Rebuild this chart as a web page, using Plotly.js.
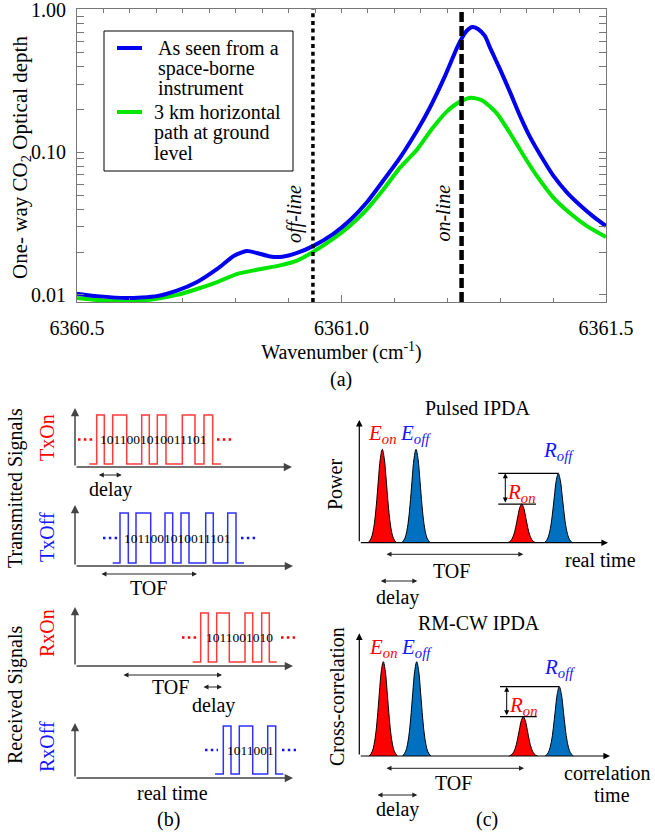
<!DOCTYPE html>
<html><head><meta charset="utf-8">
<script src="https://cdn.plot.ly/plotly-3.0.1.min.js"></script>
<style>html,body{margin:0;padding:0;background:#fff}#plot{width:655px;height:834px}</style>
</head><body><div id="plot"></div>
<script>
// ================= (a) optical depth spectra =================
const wnSpace = [6360.500,6360.538,6360.595,6360.651,6360.689,6360.727,6360.765,6360.797,6360.821,6360.840,6360.865,6360.888,6360.916,6360.946,6360.984,6361.016,6361.048,6361.078,6361.111,6361.143,6361.167,6361.196,6361.220,6361.235,6361.247,6361.258,6361.271,6361.281,6361.300,6361.319,6361.337,6361.356,6361.375,6361.400,6361.426,6361.451,6361.475,6361.500];
const odSpace = [0.0102,0.0098,0.0095,0.0098,0.0107,0.0123,0.0152,0.0188,0.0203,0.0197,0.0186,0.0185,0.0197,0.0220,0.0267,0.0334,0.0447,0.0627,0.0923,0.1425,0.206,0.346,0.560,0.702,0.760,0.736,0.658,0.542,0.381,0.263,0.182,0.129,0.097,0.069,0.0525,0.0426,0.0357,0.0304];
const wnGround = [6360.500,6360.538,6360.595,6360.651,6360.689,6360.727,6360.765,6360.802,6360.840,6360.884,6360.916,6360.946,6360.984,6361.016,6361.048,6361.078,6361.111,6361.143,6361.173,6361.199,6361.224,6361.245,6361.267,6361.294,6361.319,6361.343,6361.370,6361.400,6361.432,6361.464,6361.500];
const odGround = [0.0095,0.0092,0.0090,0.0094,0.0100,0.0110,0.0123,0.0140,0.0150,0.0161,0.0174,0.0200,0.0247,0.0306,0.0399,0.0542,0.0785,0.1050,0.1496,0.1935,0.2274,0.2425,0.2310,0.1874,0.1358,0.0968,0.0679,0.0484,0.0374,0.0304,0.0255];
const offLineWn = 6360.946;
const onLineWn = 6361.227;
const xTickVals = [6360.5, 6361.0, 6361.5];
const yTickVals = [0.01, 0.1, 1];
const yTickText = ['0.01', '0.10', '1.00'];
const yMinorVals = [0.02,0.03,0.04,0.05,0.06,0.07,0.08,0.09,0.2,0.3,0.4,0.5,0.6,0.7,0.8,0.9];
const legendSpace = ['As seen from a', 'space-borne', 'instrument'];
const legendGround = ['3 km horizontal', 'path at ground', 'level'];

// ================= (b) code-modulated signals (time units, levels 0/1) =================
const txOnEdges  = [14.3,21.7,29.3,37.7,51.7,66.7,74.3,82.3,91,107.3,120,129,137.7,146];
const txOnLevels = [0,1,0,1,0,1,0,1,0,1,0,1,0,0];
const txOffEdges  = [37.7,45,53.3,61,75.7,90,97.7,106,114,130.7,138.3,152.7,161,169];
const txOffLevels = [0,1,0,1,0,1,0,1,0,1,0,1,0,0];
const rxOnEdges  = [117.7,125.7,133.3,141.7,154.3,170,177.7,186.7,194.3,201.7];
const rxOnLevels = [0,1,0,1,0,1,0,1,0,0];
const rxOffEdges  = [140,148.3,156,164.3,177.7,192.7,200.7,208.3];
const rxOffLevels = [0,1,0,1,0,1,0,0];
const txOnBits = '1011001010011101';
const txOffBits = '1011001010011101';
const rxOnBits = '1011001010';
const rxOffBits = '1011001';
const txDelay = [22.3, 46.7];
const txTof = [25, 122];
const rxTof = [47, 147];
const rxDelay = [127, 147];

// ================= (c) pulses / correlation peaks =================
const peakLabels = ['E<sub>on</sub>', 'E<sub>off</sub>', 'R<sub>on</sub>', 'R<sub>off</sub>'];
const pulsedCenters = [23, 56.7, 162.4, 199];
const pulsedHeights = [1, 1, 0.414, 0.743];
const rmcwCenters = [24, 57.4, 164, 200];
const rmcwHeights = [1, 1, 0.417, 0.735];
const pulseOffsets = [-14,-11,-8,-6,-4,-2,0,2,4,6,8,11,14];
const pulseShape   = [0,0.05,0.2,0.4,0.66,0.9,1,0.9,0.66,0.4,0.2,0.05,0];
const pulsedTof = [25.7, 164];
const pulsedDelay = [20, 58];
const rmcwTof = [25.7, 164.7];
const rmcwDelay = [16.7, 58];

// ================= helpers =================
const W = 655, H = 834;
const FONT = '"Liberation Serif", "Times New Roman", Times, serif';
const fx = p => p / W, fy = p => 1 - p / H;
const RED = '#ff0000', BLUE = '#1515ff';
const RED_W = '#ff3b3b', BLUE_W = '#3030ff';
const PEAK_RED = '#ff0000', PEAK_BLUE = '#0070c0';
const AXC = '#777777';

const traces = [];
const shapes = [];
const annotations = [];

const layout = {
  width: W, height: H,
  margin: {l: 0, r: 0, t: 0, b: 0},
  paper_bgcolor: '#ffffff', plot_bgcolor: 'rgba(0,0,0,0)',
  showlegend: false,
  font: {family: FONT, size: 20, color: '#000'},
  xaxis: {
    domain: [fx(77), fx(606)], range: [6360.5, 6361.5], anchor: 'y',
    showline: true, linecolor: AXC, linewidth: 1, mirror: true,
    ticks: 'inside', ticklen: 7, tickcolor: AXC, tickwidth: 1,
    tickmode: 'array', tickvals: xTickVals, tickformat: '.1f',
    tickfont: {family: FONT, size: 20, color: '#000'}, ticklabelstandoff: 8,
    ticklabeloverflow: 'allow',
    minor: {ticks: 'inside', ticklen: 4, tickcolor: AXC, tick0: 6360.5, dtick: 0.1, showgrid: false},
    showgrid: false, zeroline: false,
    title: {text: 'Wavenumber (cm<sup>-1</sup>)', font: {family: FONT, size: 20, color: '#000'}, standoff: 2}
  },
  xaxis2: {
    overlaying: 'x', side: 'top', anchor: 'y', range: [6360.5, 6361.5],
    ticks: 'inside', ticklen: 4, tickcolor: AXC, tickmode: 'linear', tick0: 6360.5, dtick: 0.05,
    showticklabels: false, showline: false, showgrid: false, zeroline: false
  },
  yaxis: {
    domain: [fy(302), fy(9)], type: 'log', range: [-2.05, 0.007], anchor: 'x',
    showline: true, linecolor: AXC, linewidth: 1, mirror: 'allticks',
    ticks: 'inside', ticklen: 7, tickcolor: AXC,
    tickmode: 'array', tickvals: yTickVals, ticktext: yTickText,
    tickfont: {family: FONT, size: 20, color: '#000'}, ticklabelstandoff: 6,
    ticklabeloverflow: 'allow',
    minor: {ticks: 'inside', ticklen: 4, tickcolor: AXC, tickmode: 'array', tickvals: yMinorVals, showgrid: false},
    showgrid: false, zeroline: false
  },
  shapes: shapes, annotations: annotations
};

function ptext(px, py, text, opts) {
  annotations.push(Object.assign({xref: 'paper', yref: 'paper', x: fx(px), y: fy(py), text: text,
    showarrow: false, xanchor: 'center', yanchor: 'middle', font: {family: FONT, size: 20, color: '#000'}}, opts || {}));
}

// ---------- (a) traces ----------
traces.push({x: wnGround, y: odGround, type: 'scatter', mode: 'lines', xaxis: 'x', yaxis: 'y',
  line: {color: '#00e600', width: 4, shape: 'spline', smoothing: 0.6}, hoverinfo: 'skip'});
traces.push({x: wnSpace, y: odSpace, type: 'scatter', mode: 'lines', xaxis: 'x', yaxis: 'y',
  line: {color: '#0000ee', width: 4, shape: 'spline', smoothing: 0.6}, hoverinfo: 'skip'});
traces.push({x: [offLineWn, offLineWn], y: [0.0089, 1.02], type: 'scatter', mode: 'lines', xaxis: 'x2', yaxis: 'y',
  line: {color: '#000', width: 3.5, dash: '4px,3.7px'}, hoverinfo: 'skip'});
traces.push({x: [onLineWn, onLineWn], y: [0.0089, 1.02], type: 'scatter', mode: 'lines', xaxis: 'x2', yaxis: 'y',
  line: {color: '#000', width: 4.5, dash: '10px,4px'}, hoverinfo: 'skip'});

ptext(21, 158, 'One- way CO<sub>2</sub> Optical depth', {textangle: -90, font: {family: FONT, size: 21, color: '#000'}});
annotations.push({xref: 'x', yref: 'paper', x: offLineWn, y: fy(214), xshift: -18, text: '<i>off-line</i>', textangle: -90,
  showarrow: false, xanchor: 'center', yanchor: 'middle', font: {family: FONT, size: 20, color: '#000'}});
annotations.push({xref: 'x', yref: 'paper', x: onLineWn, y: fy(213), xshift: -19, text: '<i>on-line</i>', textangle: -90,
  showarrow: false, xanchor: 'center', yanchor: 'middle', font: {family: FONT, size: 20, color: '#000'}});
ptext(341, 379, '(a)');

// legend (drawn by hand to match the boxed layout)
shapes.push({type: 'rect', xref: 'paper', yref: 'paper', x0: fx(104), x1: fx(293), y0: fy(171), y1: fy(31),
  line: {color: '#000', width: 1}, fillcolor: '#fff', layer: 'above'});
shapes.push({type: 'line', xref: 'paper', yref: 'paper', x0: fx(117), x1: fx(142), y0: fy(48), y1: fy(48),
  line: {color: '#0000ee', width: 4}, layer: 'above'});
shapes.push({type: 'line', xref: 'paper', yref: 'paper', x0: fx(117), x1: fx(142), y0: fy(112), y1: fy(112),
  line: {color: '#00e600', width: 4}, layer: 'above'});
legendSpace.forEach((t, i) => ptext(156, 48 + 20 * i, t, {xanchor: 'left'}));
legendGround.forEach((t, i) => ptext(152, 112 + 20.5 * i, t, {xanchor: 'left'}));

// ---------- (b) panels ----------
function makeAxes(n, box, ox, oy, sx, sy) {
  layout['xaxis' + n] = {domain: [fx(box.l), fx(box.r)], range: [(box.l - ox) / sx, (box.r - ox) / sx],
    anchor: 'y' + n, visible: false, fixedrange: true};
  layout['yaxis' + n] = {domain: [fy(box.b), fy(box.t)], range: [(oy - box.b) / sy, (oy - box.t) / sy],
    anchor: 'x' + n, visible: false, fixedrange: true};
}
function arrowAnn(n, x0, y0, x1, y1, opts) {
  annotations.push(Object.assign({xref: 'x' + n, yref: 'y' + n, axref: 'x' + n, ayref: 'y' + n,
    x: x1, y: y1, ax: x0, ay: y0, text: '', showarrow: true, arrowhead: 2, arrowsize: 1,
    arrowwidth: 1.5, arrowcolor: '#000'}, opts || {}));
}
function dblArrow(n, x0, x1, y, opts) {
  arrowAnn(n, x0, y, x1, y, Object.assign({arrowside: 'end+start', arrowhead: 2, startarrowhead: 2,
    arrowsize: 1, startarrowsize: 1, arrowwidth: 1, arrowcolor: '#222'}, opts || {}));
}

const sigPanels = [
  {n: 3, edges: txOnEdges, levels: txOnLevels, bits: txOnBits, wave: RED_W, dot: RED,
   box: {l: 60, r: 305, t: 398, b: 500}, oy: 464, sy: 49, base: 467, top: 408, xtip: 292,
   dotsL: [3, 18], dotsR: [142, 157], bitsX: 78.3},
  {n: 4, edges: txOffEdges, levels: txOffLevels, bits: txOffBits, wave: BLUE_W, dot: BLUE,
   box: {l: 60, r: 305, t: 500, b: 600}, oy: 563, sy: 50, base: 566, top: 505, xtip: 293,
   dotsL: [28, 43], dotsR: [166, 181], bitsX: 102},
  {n: 5, edges: rxOnEdges, levels: rxOnLevels, bits: rxOnBits, wave: RED_W, dot: RED,
   box: {l: 60, r: 305, t: 600, b: 715}, oy: 662, sy: 49, base: 666, top: 607, xtip: 293,
   dotsL: [107, 122], dotsR: [206, 220], bitsX: 164},
  {n: 6, edges: rxOffEdges, levels: rxOffLevels, bits: rxOffBits, wave: BLUE_W, dot: BLUE,
   box: {l: 60, r: 305, t: 715, b: 805}, oy: 774, sy: 48, base: 778, top: 723, xtip: 293,
   dotsL: [130, 143], dotsR: [207, 221], bitsX: 175}
];
const OX_B = 75;
sigPanels.forEach(p => {
  makeAxes(p.n, p.box, OX_B, p.oy, 1, p.sy);
  const yb = (p.oy - p.base) / p.sy;
  traces.push({x: p.edges, y: p.levels, type: 'scatter', mode: 'lines', xaxis: 'x' + p.n, yaxis: 'y' + p.n,
    line: {color: p.wave, width: 1.5, shape: 'hv'}, hoverinfo: 'skip'});
  [p.dotsL, p.dotsR].forEach(d => traces.push({x: d, y: [0.5, 0.5], type: 'scatter', mode: 'lines',
    xaxis: 'x' + p.n, yaxis: 'y' + p.n, line: {color: p.dot, width: 2.5, dash: '2.5px,3.3px'}, hoverinfo: 'skip'}));
  annotations.push({xref: 'x' + p.n, yref: 'y' + p.n, x: p.bitsX, y: 0.5, text: p.bits, showarrow: false,
    xanchor: 'center', yanchor: 'middle', font: {family: FONT, size: 13.5, color: '#000'}});
  arrowAnn(p.n, 0, yb, 0, (p.oy - p.top) / p.sy, {arrowcolor: '#444', arrowwidth: 1.5, arrowhead: 2, arrowsize: 1.1});
  arrowAnn(p.n, 0, yb, p.xtip - OX_B, yb, {arrowcolor: '#444', arrowwidth: 1.5, arrowhead: 2, arrowsize: 1.1});
});
// interval arrows
dblArrow(3, txDelay[0], txDelay[1], (464 - 475) / 49);
dblArrow(4, txTof[0], txTof[1], (563 - 574) / 50);
dblArrow(5, rxTof[0], rxTof[1], (662 - 675) / 49);
dblArrow(5, rxDelay[0], rxDelay[1], (662 - 687) / 49);

ptext(110, 489, 'delay');
ptext(148, 588, 'TOF');
ptext(170, 687, 'TOF');
ptext(213, 705, 'delay');
ptext(172, 793, 'real time');
ptext(168, 819, '(b)');
ptext(15, 488, 'Transmitted Signals', {textangle: -90});
ptext(15, 695, 'Received Signals', {textangle: -90});
ptext(47, 438, 'TxOn', {textangle: -90, font: {family: FONT, size: 20, color: RED}});
ptext(47, 537, 'TxOff', {textangle: -90, font: {family: FONT, size: 20, color: BLUE}});
ptext(47, 633, 'RxOn', {textangle: -90, font: {family: FONT, size: 20, color: RED}});
ptext(47, 747, 'RxOff', {textangle: -90, font: {family: FONT, size: 20, color: BLUE}});

// ---------- (c) panels ----------
const OX_C = 359.3;
const peakPanels = [
  {n: 7, centers: pulsedCenters, heights: pulsedHeights, box: {l: 330, r: 650, t: 395, b: 605}, oy: 542.7, sy: 93.4,
   top: 420, xtip: 608, lblOff: [15, 15, 11, 22], refL: 139, ronEnd: 176.7, vArrow: 146,
   tof: pulsedTof, tofY: 554.3, delay: pulsedDelay, delayY: 581},
  {n: 8, centers: rmcwCenters, heights: rmcwHeights, box: {l: 330, r: 655, t: 610, b: 830}, oy: 756, sy: 94.3,
   top: 633.3, xtip: 610, lblOff: [13.5, 13.5, 10.5, 19], refL: 140.7, ronEnd: 177.4, vArrow: 147.4,
   tof: rmcwTof, tofY: 768.3, delay: rmcwDelay, delayY: 795}
];
const peakColors = [PEAK_RED, PEAK_BLUE, PEAK_RED, PEAK_BLUE];
const labelColors = [RED, BLUE, RED, BLUE];
peakPanels.forEach(p => {
  makeAxes(p.n, p.box, OX_C, p.oy, 1, p.sy);
  p.centers.forEach((c, i) => {
    traces.push({x: pulseOffsets.map(o => c + o), y: pulseShape.map(s => s * p.heights[i]),
      type: 'scatter', mode: 'lines', fill: 'tozeroy', fillcolor: peakColors[i],
      line: {color: '#000', width: 1, shape: 'spline', smoothing: 1}, xaxis: 'x' + p.n, yaxis: 'y' + p.n, hoverinfo: 'skip'});
    annotations.push({xref: 'x' + p.n, yref: 'y' + p.n, x: c, y: p.heights[i] + p.lblOff[i] / p.sy,
      text: '<i>' + peakLabels[i] + '</i>', showarrow: false, xanchor: 'center', yanchor: 'middle',
      font: {family: FONT, size: 21, color: labelColors[i]}});
  });
  // axes arrows
  arrowAnn(p.n, 0, 0, 0, (p.oy - p.top) / p.sy, {arrowwidth: 1.2, arrowsize: 1.1});
  arrowAnn(p.n, 0, 0, p.xtip - OX_C, 0, {arrowwidth: 1.2, arrowsize: 1.1});
  // reference lines Roff / Ron
  const hOff = p.heights[3], hOn = p.heights[2];
  shapes.push({type: 'line', xref: 'x' + p.n, yref: 'y' + p.n, x0: p.refL, x1: p.centers[3], y0: hOff, y1: hOff,
    line: {color: '#000', width: 1.2}});
  shapes.push({type: 'line', xref: 'x' + p.n, yref: 'y' + p.n, x0: p.refL, x1: p.ronEnd, y0: hOn, y1: hOn,
    line: {color: '#000', width: 1.2}});
  arrowAnn(p.n, p.vArrow, hOn, p.vArrow, hOff, {arrowside: 'end+start', arrowwidth: 1, arrowsize: 1, startarrowsize: 1,
    startarrowhead: 2, arrowcolor: '#000'});
  dblArrow(p.n, p.tof[0], p.tof[1], (p.oy - p.tofY) / p.sy);
  dblArrow(p.n, p.delay[0], p.delay[1], (p.oy - p.delayY) / p.sy);
});
ptext(478, 408, 'Pulsed IPDA');
ptext(479, 623, 'RM-CW IPDA');
ptext(335, 485, 'Power', {textangle: -90});
ptext(337, 697, 'Cross-correlation', {textangle: -90});
ptext(452, 571, 'TOF');
ptext(397, 597, 'delay');
ptext(600, 560, 'real time');
ptext(453, 783, 'TOF');
ptext(397, 809, 'delay');
ptext(607, 773, 'correlation');
ptext(612, 795, 'time');
ptext(487, 819, '(c)');

Plotly.newPlot('plot', traces, layout, {staticPlot: true, displayModeBar: false});
</script>
</body></html>
